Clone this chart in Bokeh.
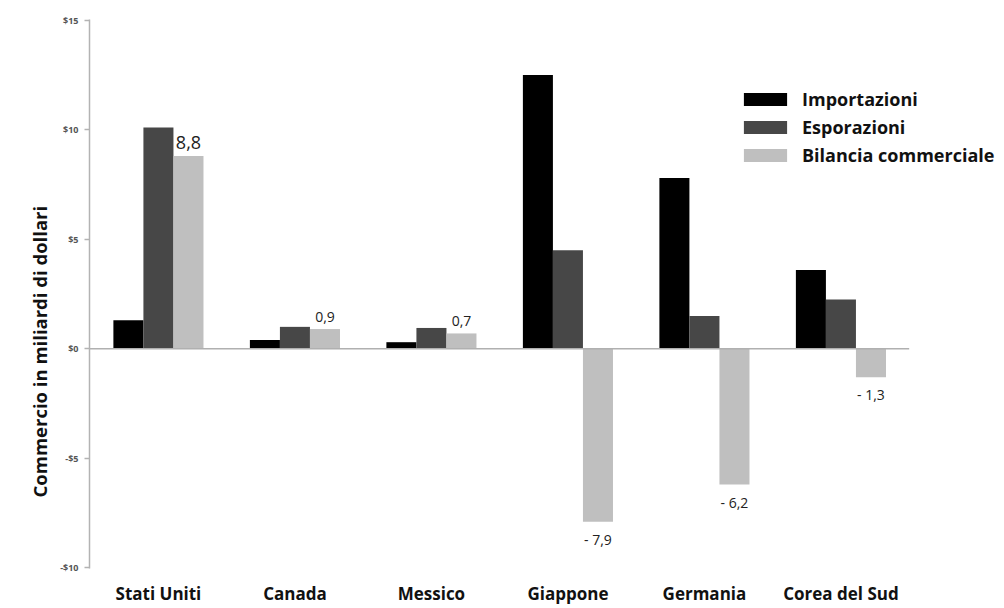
from bokeh.plotting import figure
from bokeh.models import ColumnDataSource, FixedTicker, Range1d, Legend, LegendItem, LinearAxis, Title
from bokeh.core.properties import value
from bokeh.embed import file_html
from bokeh.resources import INLINE

# Trade data (billions of dollars)
countries = ["Stati Uniti", "Canada", "Messico", "Giappone", "Germania", "Corea del Sud"]
importazioni = [1.3, 0.4, 0.3, 12.5, 7.8, 3.6]
esporazioni = [10.1, 1.0, 0.95, 4.5, 1.5, 2.25]
bilancia = [8.8, 0.9, 0.7, -7.9, -6.2, -1.3]

y_ticks = [-10, -5, 0, 5, 10, 15]
y_tick_labels = ["-$10", "-$5", "$0", "$5", "$10", "$15"]

FONT = "Open Sans"
C_IMP = "#000000"
C_EXP = "#474747"
C_BIL = "#bfbfbf"

n = len(countries)
xs = list(range(n))
bw = 0.22

left_px, right_px, top_px, bottom_px = 89, 0, 19, 40
W, H = 1004, 608
frame_w = W - left_px - right_px
unit_px = 136.5
x_start = -0.505
x_end = x_start + frame_w / unit_px

p = figure(width=W, height=H, output_backend="svg", toolbar_location=None,
           x_range=Range1d(x_start, x_end), y_range=Range1d(-10.03, 15.03),
           min_border_left=left_px, min_border_right=right_px,
           min_border_top=top_px, min_border_bottom=bottom_px)
p.outline_line_color = None
p.xgrid.visible = False
p.ygrid.visible = False
p.background_fill_color = "white"

src = ColumnDataSource(dict(
    x=xs,
    x_imp=[x - bw for x in xs],
    x_bil=[x + bw for x in xs],
    imp=importazioni, exp=esporazioni, bil=bilancia,
))

r_imp = p.vbar(x="x_imp", top="imp", bottom=0, width=bw, source=src,
               fill_color=C_IMP, line_color=None)
r_exp = p.vbar(x="x", top="exp", bottom=0, width=bw, source=src,
               fill_color=C_EXP, line_color=None)
r_bil = p.vbar(x="x_bil", top="bil", bottom=0, width=bw, source=src,
               fill_color=C_BIL, line_color=None)

# Baseline at zero, from the axis to the end of the last group
p.segment(x0=[x_start], y0=[0], x1=[n - 0.5], y1=[0], line_color="#b0b0b0", line_width=1.5)

# Value labels for the trade balance
def fmt(v):
    s = f"{abs(v):.1f}".replace(".", ",")
    return ("- " + s) if v < 0 else s

pos = [i for i, v in enumerate(bilancia) if v >= 0]
neg = [i for i, v in enumerate(bilancia) if v < 0]
pos_src = ColumnDataSource(dict(
    x=[xs[i] + bw for i in pos], y=[bilancia[i] for i in pos],
    t=[fmt(bilancia[i]) for i in pos],
    s=["18px" if bilancia[i] > 5 else "14px" for i in pos],
))
neg_src = ColumnDataSource(dict(
    x=[xs[i] + bw for i in neg], y=[bilancia[i] for i in neg],
    t=[fmt(bilancia[i]) for i in neg],
))
p.text(x="x", y="y", text="t", source=pos_src, text_align="center", text_baseline="bottom",
       y_offset=-7, text_font=value(FONT), text_font_size="s", text_color="#222222")
p.text(x="x", y="y", text="t", source=neg_src, text_align="center", text_baseline="top",
       y_offset=8, text_font=value(FONT), text_font_size="14px", text_color="#222222")

# Y axis
ya = p.yaxis[0]
ya.ticker = FixedTicker(ticks=y_ticks)
ya.major_label_overrides = {t: l for t, l in zip(y_ticks, y_tick_labels)}
ya.axis_line_color = "#b3b3b3"
ya.axis_line_width = 1.5
ya.major_tick_line_color = "#b3b3b3"
ya.major_tick_line_width = 1.5
ya.major_tick_out = 5
ya.major_tick_in = 0
ya.minor_tick_line_color = None
ya.major_label_text_font = FONT
ya.major_label_text_font_size = "9px"
ya.major_label_text_font_style = "bold"
ya.major_label_text_color = "#555555"
ya.major_label_standoff = 6

# Empty axis used only as a gap between the tick labels and the title
gap_axis = LinearAxis(ticker=FixedTicker(ticks=[]), axis_line_color=None,
                      major_tick_line_color="#ffffff", major_tick_out=19, major_tick_in=0,
                      minor_tick_line_color=None, minor_tick_out=0, minor_tick_in=0,
                      major_label_standoff=0, major_label_text_font_size="0px")
p.add_layout(gap_axis, "left")

# Vertical title, starting a little below the middle of the lower half
p.add_layout(Title(text="Commercio in miliardi di dollari", align="left", offset=71,
                   vertical_align="bottom", standoff=12,
                   text_font=FONT, text_font_size="18.5px", text_font_style="bold",
                   text_color="#111111"), "left")

# X axis: country names under their groups
xa = p.xaxis[0]
xa.ticker = FixedTicker(ticks=xs)
xa.major_label_overrides = {t: c for t, c in zip(xs, countries)}
xa.axis_line_color = None
xa.major_tick_line_color = None
xa.major_tick_out = 0
xa.major_tick_in = 0
xa.minor_tick_line_color = None
xa.major_label_text_font = FONT
xa.major_label_text_font_size = "17px"
xa.major_label_text_font_style = "bold"
xa.major_label_text_color = "#111111"
xa.major_label_standoff = 13

legend = Legend(items=[
    LegendItem(label="Importazioni", renderers=[r_imp]),
    LegendItem(label="Esporazioni", renderers=[r_exp]),
    LegendItem(label="Bilancia commerciale", renderers=[r_bil]),
], location=(649, 401))
legend.background_fill_alpha = 0
legend.border_line_color = None
legend.padding = 0
legend.margin = 0
legend.spacing = 4
legend.glyph_width = 54
legend.glyph_height = 16
legend.label_height = 23
legend.label_standoff = 10
legend.label_text_font = FONT
legend.label_text_font_size = "18px"
legend.label_text_font_style = "bold"
legend.label_text_color = "#111111"
p.add_layout(legend)

open("out.html", "w").write(file_html(p, INLINE))
